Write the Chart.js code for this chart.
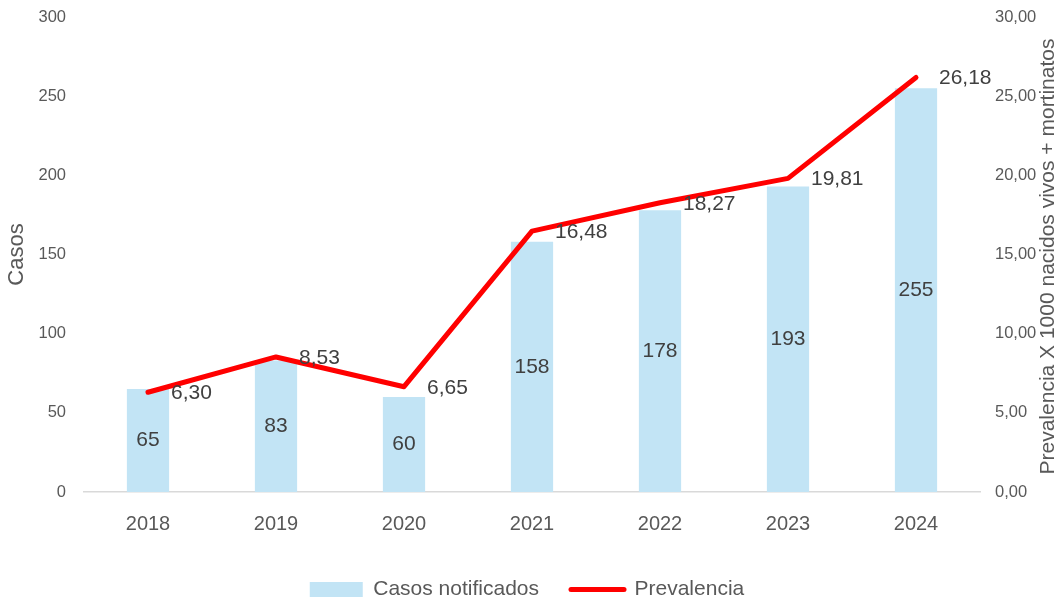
<!DOCTYPE html>
<html lang="es">
<head>
  <meta charset="UTF-8">
  <title>Casos notificados y prevalencia</title>
  <style>
    html, body { margin: 0; padding: 0; background: #fff; }
    #wrap { width: 1054px; height: 610px; }
  </style>
</head>
<body>
  <div id="wrap"><canvas id="myChart"></canvas></div>
  <script src="https://cdn.jsdelivr.net/npm/chart.js"></script>
  <script>
    const years = ['2018', '2019', '2020', '2021', '2022', '2023', '2024'];
    const casos = [65, 83, 60, 158, 178, 193, 255];
    const prevalencia = [6.30, 8.53, 6.65, 16.48, 18.27, 19.81, 26.18];

    const fmt = v => v.toFixed(2).replace('.', ',');
    const FONT = "'Liberation Sans', Arial, sans-serif";

    // etiquetas de datos (barras al centro, linea a la derecha del punto)
    const labelsPlugin = {
      id: 'valueLabels',
      afterDatasetsDraw(chart) {
        const ctx = chart.ctx;
        ctx.save();
        ctx.font = '21px ' + FONT;
        ctx.fillStyle = '#404040';
        ctx.textBaseline = 'middle';

        chart.getDatasetMeta(0).data.forEach((bar, i) => {
          ctx.textAlign = 'center';
          ctx.fillText(String(casos[i]), bar.x, (bar.y + bar.base) / 2);
        });
        chart.getDatasetMeta(1).data.forEach((pt, i) => {
          ctx.textAlign = 'left';
          ctx.fillText(fmt(prevalencia[i]), pt.x + 23, pt.y + 1);
        });

        // titulo del eje derecho, leido de abajo hacia arriba
        const y1 = chart.scales.y1;
        ctx.font = '21px ' + FONT;
        ctx.fillStyle = '#595959';
        ctx.textBaseline = 'alphabetic';
        ctx.translate(1054, (y1.top + y1.bottom) / 2 + 2);
        ctx.rotate(-Math.PI / 2);
        ctx.textAlign = 'center';
        ctx.fillText('Prevalencia X 1000 nacidos vivos + mortinatos', 0, 0);
        ctx.restore();
      }
    };

    // sin relleno extra arriba/abajo por las etiquetas de los ejes
    const fitY = w => s => { s.width = w; s.paddingTop = 0; s.paddingBottom = 0; };

    const ctx = document.getElementById('myChart');

    new Chart(ctx, {
      type: 'bar',
      data: {
        labels: years,
        datasets: [{
          label: 'Casos notificados',
          data: casos,
          backgroundColor: '#C2E4F5',
          barPercentage: 0.33,
          categoryPercentage: 1,
          yAxisID: 'y',
          order: 2
        }, {
          type: 'line',
          label: 'Prevalencia',
          data: prevalencia,
          borderColor: '#FF0000',
          backgroundColor: '#FF0000',
          borderWidth: 5,
          pointRadius: 0,
          borderCapStyle: 'round',
          borderJoinStyle: 'round',
          tension: 0,
          yAxisID: 'y1',
          order: 1
        }]
      },
      plugins: [labelsPlugin],
      options: {
        responsive: true,
        maintainAspectRatio: false,
        animation: false,
        layout: { padding: { top: 17, right: 0, left: 0, bottom: 0 } },
        plugins: {
          tooltip: { enabled: false },
          legend: {
            position: 'bottom',
            labels: {
              color: '#595959',
              font: { family: FONT, size: 21 },
              boxWidth: 53,
              boxHeight: 15,
              padding: 32,
              usePointStyle: true,
              pointStyleWidth: 53,
              generateLabels: chart => chart.data.datasets.map((ds, i) => ({
                text: ds.label,
                datasetIndex: i,
                fillStyle: ds.backgroundColor,
                strokeStyle: ds.type === 'line' ? ds.borderColor : ds.backgroundColor,
                lineWidth: ds.type === 'line' ? 5 : 0,
                lineCap: 'round',
                pointStyle: ds.type === 'line' ? 'line' : 'rect',
                fontColor: '#595959'
              }))
            }
          }
        },
        scales: {
          x: {
            afterFit: s => { s.height = 55; },
            grid: { display: false, drawTicks: false },
            border: { color: '#D9D9D9', width: 1.5 },
            ticks: { color: '#595959', font: { family: FONT, size: 20 }, padding: 20 }
          },
          y: {
            position: 'left',
            min: 0, max: 300,
            afterFit: fitY(84),
            grid: { display: false, drawTicks: false },
            border: { display: false },
            ticks: { stepSize: 50, color: '#595959', font: { family: FONT, size: 16.5 }, padding: 18 },
            title: { display: true, text: 'Casos', color: '#595959', font: { family: FONT, size: 22 }, padding: { top: 4, bottom: 0 } }
          },
          y1: {
            position: 'right',
            min: 0, max: 30,
            afterFit: fitY(74),
            grid: { display: false, drawTicks: false },
            border: { display: false },
            ticks: { stepSize: 5, color: '#595959', font: { family: FONT, size: 16.5 }, padding: 15, callback: v => fmt(v) }
          }
        }
      }
    });
  </script>
</body>
</html>
